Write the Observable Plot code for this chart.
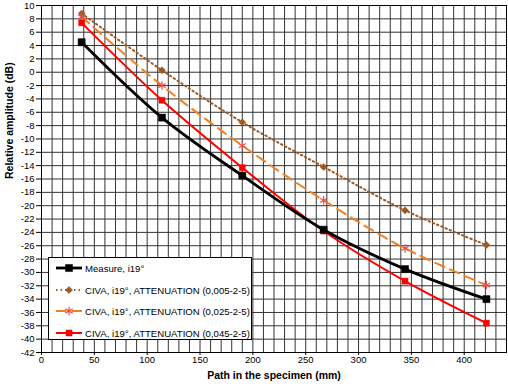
<!DOCTYPE html>
<html><head><meta charset="utf-8">
<script src="https://cdn.jsdelivr.net/npm/d3@7"></script>
<script src="https://cdn.jsdelivr.net/npm/@observablehq/plot@0.6"></script>
<style>
body{margin:0;background:#fff;}
#wrap{position:relative;width:508px;height:387px;font-family:"Liberation Sans",Arial,sans-serif;}
#legend{position:absolute;left:48px;top:257px;width:204px;height:83px;border:1px solid #000;background:#fff;box-sizing:border-box;}
.item{position:absolute;left:6px;height:12px;display:flex;align-items:center;font-size:9.6px;white-space:nowrap;color:#000;}
.item svg{margin-right:2px;}
</style>
</head><body>
<div id="wrap"></div>
<script>
const pathMm = [38, 114, 190, 267, 344, 421];
const measure = [4.5, -6.8, -15.5, -23.6, -29.5, -34.0];
const civa005 = [8.8, 0.3, -7.5, -14.2, -20.7, -25.9];
const civa025 = [8.3, -2.0, -11.0, -19.2, -26.4, -31.9];
const civa045 = [7.4, -4.2, -14.3, -23.8, -31.3, -37.6];
const seriesNames = ["Measure, i19°", "CIVA, i19°, ATTENUATION (0,005-2-5)", "CIVA, i19°, ATTENUATION (0,025-2-5)", "CIVA, i19°, ATTENUATION (0,045-2-5)"];
const xTicks = [0, 50, 100, 150, 200, 250, 300, 350, 400];
const yTicks = d3.range(-42, 11, 2);
const xGrid = d3.range(0, 441, 10);

const seriesValues = [measure, civa005, civa025, civa045];
const styles = [
  {stroke: "#000", width: 2.8, dash: null, symbol: "square", fill: "#000", mstroke: "#000", r: 4},
  {stroke: "#9c5a22", width: 2, dash: "1.5,3", symbol: "diamond2", fill: "#9c5a22", mstroke: "#9c5a22", r: 3.2},
  {stroke: "#f08020", width: 2, dash: "10,6", symbol: "asterisk", fill: "none", mstroke: "#e8504a", r: 4},
  {stroke: "#ff0000", width: 2, dash: null, symbol: "square", fill: "#ff0000", mstroke: "#ff0000", r: 3.4}
];
const data = seriesValues.flatMap((vals, i) => vals.map((v, j) => ({x: pathMm[j], y: v, s: seriesNames[i]})));

const marks = [
  Plot.ruleX(xGrid, {stroke: "#333", strokeWidth: 1}),
  Plot.ruleY(yTicks, {stroke: "#333", strokeWidth: 1}),
  Plot.frame({stroke: "#000"})
];
[1, 2, 3, 0].forEach(i => {
  const st = styles[i];
  const d = data.filter(p => p.s === seriesNames[i]);
  marks.push(Plot.line(d, {x: "x", y: "y", stroke: st.stroke, strokeWidth: st.width, strokeDasharray: st.dash, curve: "catmull-rom"}));
  marks.push(Plot.dot(d, {x: "x", y: "y", symbol: () => st.symbol, r: st.r, fill: st.fill, stroke: st.mstroke, strokeWidth: st.symbol === "asterisk" ? 1.2 : 0.5}));
});
marks.push(Plot.text(["Path in the specimen (mm)"], {frameAnchor: "bottom", dy: 26, fontWeight: "bold", fontSize: 10.5}));
marks.push(Plot.text(["Relative amplitude (dB)"], {frameAnchor: "left", dx: -32, rotate: -90, fontWeight: "bold", fontSize: 10.5}));

const chart = Plot.plot({
  width: 508, height: 387,
  marginLeft: 41, marginRight: 2, marginTop: 5, marginBottom: 35,
  style: {fontFamily: '"Liberation Sans", Arial, sans-serif', fontSize: "9.5px", color: "#000", background: "#fff"},
  x: {domain: [0, 440], ticks: xTicks, tickSize: 3, tickPadding: 1, tickFormat: d => String(d), label: null},
  y: {domain: [-42, 10], ticks: yTicks, tickSize: 5, tickPadding: 2, tickFormat: d => String(d), label: null},
  marks
});
const wrap = document.getElementById("wrap");
wrap.appendChild(chart);

const legend = document.createElement("div");
legend.id = "legend";
const tops = [4, 26, 47, 69];
seriesNames.forEach((name, i) => {
  const st = styles[i];
  const item = document.createElement("div");
  item.className = "item";
  item.style.top = tops[i] + "px";
  const svg = d3.create("svg").attr("width", 28).attr("height", 12);
  svg.append("line").attr("x1", 1).attr("x2", 27).attr("y1", 6).attr("y2", 6)
    .attr("stroke", st.stroke).attr("stroke-width", st.width).attr("stroke-dasharray", st.dash);
  const symMap = {square: d3.symbolSquare, diamond2: d3.symbolDiamond2, asterisk: d3.symbolAsterisk};
  svg.append("path").attr("transform", "translate(14,6)")
    .attr("d", d3.symbol(symMap[st.symbol], st.r * st.r * Math.PI)())
    .attr("fill", st.fill).attr("stroke", st.mstroke).attr("stroke-width", st.symbol === "asterisk" ? 1.2 : 0.5);
  item.appendChild(svg.node());
  const span = document.createElement("span");
  span.textContent = name;
  item.appendChild(span);
  legend.appendChild(item);
});
wrap.appendChild(legend);
</script>
</body></html>
